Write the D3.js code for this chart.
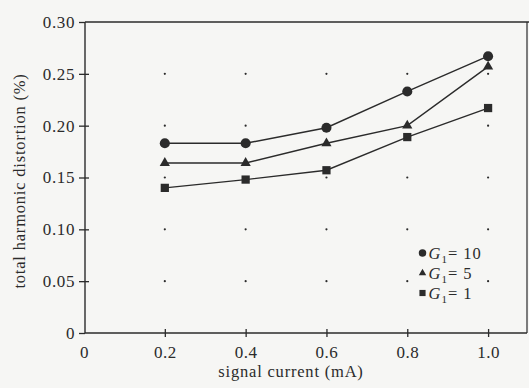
<!DOCTYPE html>
<html>
<head>
<meta charset="utf-8">
<script src="https://cdn.jsdelivr.net/npm/d3@7"></script>
<style>
  html, body { margin: 0; padding: 0; background: #f6f6f4; }
  svg { display: block; }
  text { font-family: "Liberation Serif", "DejaVu Serif", serif; fill: #2b2b2b; }
</style>
</head>
<body>
<svg id="chart" width="529" height="388"></svg>
<script>
// signal current (mA)
const currents = [0.2, 0.4, 0.6, 0.8, 1.0];
// total harmonic distortion (%) for each closed-loop gain
const thdG10 = [0.183, 0.183, 0.198, 0.233, 0.267];
const thdG5  = [0.164, 0.164, 0.183, 0.200, 0.257];
const thdG1  = [0.140, 0.148, 0.157, 0.189, 0.217];
const seriesNames = ["10", "5", "1"];
const seriesShapes = ["circle", "triangle", "square"];
const xTicks = [0, 0.2, 0.4, 0.6, 0.8, 1.0];
const xTickLabels = ["0", "0.2", "0.4", "0.6", "0.8", "1.0"];
const yTicks = [0, 0.05, 0.10, 0.15, 0.20, 0.25, 0.30];
const yTickLabels = ["0", "0.05", "0.10", "0.15", "0.20", "0.25", "0.30"];
const gridX = [0.2, 0.4, 0.6, 0.8, 1.0];
const gridY = [0.05, 0.10, 0.15, 0.20, 0.25];

const svg = d3.select("#chart");
const plotL = 85, plotR = 527, plotT = 22, plotB = 333;
const x = d3.scaleLinear().domain([0, 1.1]).range([plotL - 1, plotR + 1.5]);
const y = d3.scaleLinear().domain([0, 0.30]).range([plotB, plotT]);
const ink = "#2b2b2b";
const serif = "'Liberation Serif', 'DejaVu Serif', serif";

// frame: top and right borders
svg.append("line").attr("x1", plotL).attr("x2", 529).attr("y1", plotT).attr("y2", plotT)
  .attr("stroke", ink).attr("stroke-width", 1.4);
svg.append("line").attr("x1", plotR).attr("x2", plotR).attr("y1", plotT).attr("y2", plotB)
  .attr("stroke", ink).attr("stroke-width", 1.2);

// dotted reference grid
const grid = [];
gridX.forEach(gx => gridY.forEach(gy => grid.push([gx, gy])));
svg.append("g").selectAll("circle").data(grid).join("circle")
  .attr("cx", d => x(d[0])).attr("cy", d => y(d[1])).attr("r", 1.1).attr("fill", ink);

// x axis: ticks cross the baseline
const xAxis = d3.axisBottom(x).tickValues(xTicks)
  .tickFormat((d, i) => xTickLabels[i]).tickSizeInner(4).tickSizeOuter(0).tickPadding(9);
const gx = svg.append("g").attr("transform", `translate(0,${plotB})`).call(xAxis)
  .attr("font-family", serif).attr("font-size", 17);
gx.select(".domain").attr("d", `M${plotL},0H${plotR}`).attr("stroke", ink).attr("stroke-width", 1.4);
gx.selectAll(".tick line").attr("y1", -4).attr("stroke", ink).attr("stroke-width", 1.3);
gx.selectAll(".tick").filter(d => d === 0).select("line").remove();
gx.selectAll(".tick text").attr("fill", ink).attr("letter-spacing", 0.5);

// y axis
const yAxis = d3.axisLeft(y).tickValues(yTicks)
  .tickFormat((d, i) => yTickLabels[i]).tickSizeInner(6).tickSizeOuter(0).tickPadding(4);
const gy = svg.append("g").attr("transform", `translate(${plotL},0)`).call(yAxis)
  .attr("font-family", serif).attr("font-size", 17);
gy.select(".domain").attr("d", `M0,${plotT}V${plotB}`).attr("stroke", ink).attr("stroke-width", 1.4);
gy.selectAll(".tick line").attr("x2", 4).attr("x1", -6).attr("stroke", ink).attr("stroke-width", 1.3);
gy.selectAll(".tick").filter(d => d === 0.30 || d === 0).select("line").attr("x1", -6).attr("x2", 0);
gy.selectAll(".tick text").attr("fill", ink).attr("letter-spacing", 0.6);

// axis titles
svg.append("text").attr("x", 291).attr("y", 377).attr("text-anchor", "middle")
  .attr("font-size", 16.5).attr("letter-spacing", 0.8).text("signal current (mA)");
svg.append("text").attr("transform", "translate(25,181) rotate(-90)").attr("text-anchor", "middle")
  .attr("font-size", 16.5).attr("letter-spacing", 0.8).text("total harmonic distortion (%)");

// series
const allSeries = [thdG10, thdG5, thdG1];
const line = d3.line().x((d, i) => x(currents[i])).y(d => y(d));
allSeries.forEach(vals => {
  svg.append("path").attr("d", line(vals)).attr("fill", "none")
    .attr("stroke", ink).attr("stroke-width", 1.4);
});

const symbolFor = {
  circle: d3.symbol().type(d3.symbolCircle).size(80),
  triangle: d3.symbol().type(d3.symbolTriangle).size(45),
  square: d3.symbol().type(d3.symbolSquare).size(68)
};
allSeries.forEach((vals, s) => {
  svg.append("g").selectAll("path").data(vals).join("path")
    .attr("transform", (d, i) => `translate(${x(currents[i])},${y(d)})`)
    .attr("d", symbolFor[seriesShapes[s]]()).attr("fill", ink);
});

// legend
const legend = svg.append("g").attr("transform", "translate(422.5,253)");
const legendSym = {
  circle: d3.symbol().type(d3.symbolCircle).size(44),
  triangle: d3.symbol().type(d3.symbolTriangle).size(24),
  square: d3.symbol().type(d3.symbolSquare).size(38)
};
seriesNames.forEach((name, i) => {
  const row = legend.append("g").attr("transform", `translate(0,${i * 20})`);
  row.append("path").attr("d", legendSym[seriesShapes[i]]()).attr("fill", ink);
  const t = row.append("text").attr("x", 6).attr("y", 5.5).attr("font-size", 16.5)
    .attr("letter-spacing", 1);
  t.append("tspan").attr("font-style", "italic").text("G");
  t.append("tspan").attr("font-size", 11).attr("dy", 4).text("1");
  t.append("tspan").attr("dy", -4).text("= " + name);
});
</script>
</body>
</html>
